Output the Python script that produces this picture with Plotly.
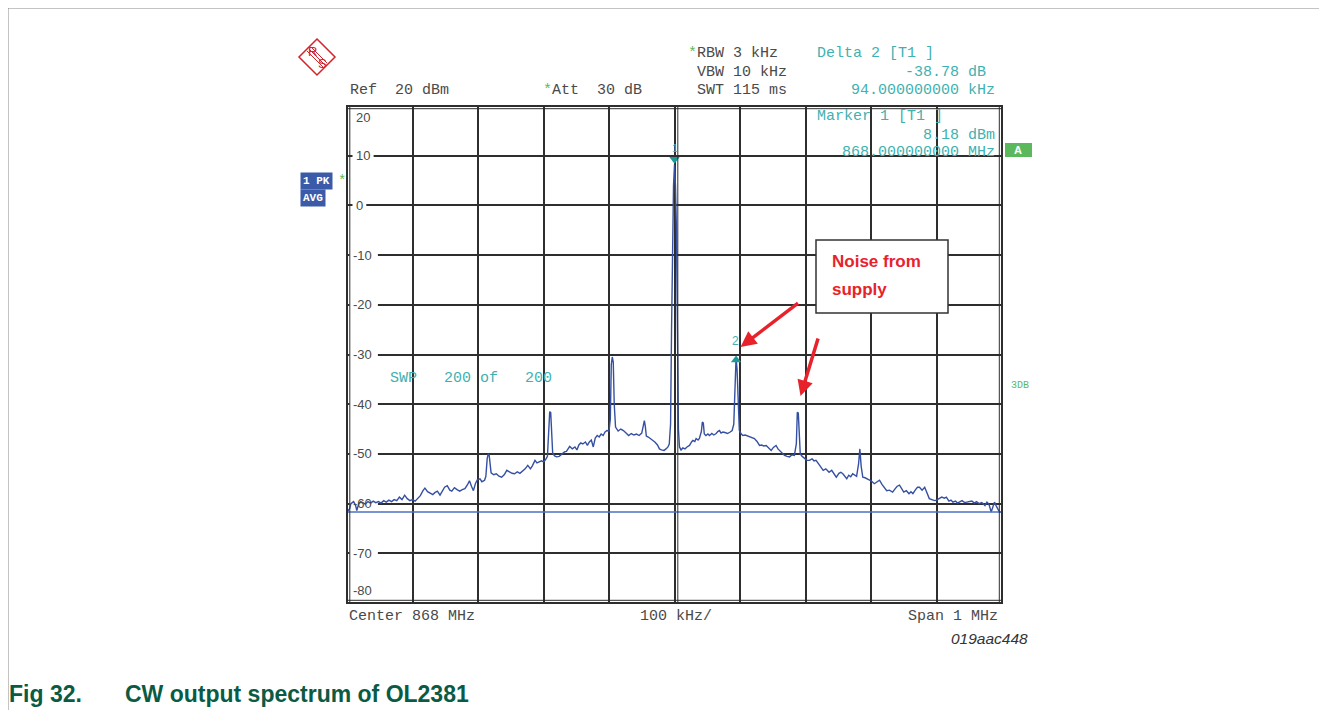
import plotly.graph_objects as go

# ---------------- data ----------------
freq_khz = [
    -500, -496, -494, -490, -487, -485, -482, -479, -476, -472, -468, -464, -460, -456, -452,
    -448, -444, -440, -436, -432, -428, -424, -420, -416, -412, -408, -404, -400, -396, -392,
    -388, -384, -381, -377, -373, -369, -366, -362, -358, -355, -351, -347, -343, -340, -336,
    -332, -328, -324, -320, -316, -313, -310, -307, -304, -301, -297, -294, -290, -288, -286,
    -284.5, -283, -281.5, -280, -276, -272, -268, -264, -260, -256, -252, -248, -244, -240, -236,
    -232, -228, -224, -220, -217, -213, -210, -206, -203, -200, -197, -194, -192, -190.5, -189,
    -187.5, -186, -183, -180, -176, -172, -168, -165, -162, -160, -156, -152, -149, -146, -143,
    -140, -136, -133, -130, -127, -124, -121, -118, -115, -112, -109, -106, -103, -100, -98,
    -96.5, -95, -93.5, -92, -90, -86, -82, -78, -74, -70, -66, -62, -58, -54, -50,
    -47, -46, -44.5, -43, -40, -36, -33, -30, -26, -23, -20, -16, -13, -10, -8,
    -6, -4.5, -3, -1.5, 0, 1.5, 3, 4.5, 6, 7.6, 10, 12.7, 16, 19, 22.9,
    26, 28, 31, 33, 36, 38, 41, 42.5, 44, 45.5, 48, 51, 53.4, 57, 60,
    63.6, 66, 68.7, 71, 73.8, 77, 81, 85, 88, 90.5, 92.5, 94, 95.5, 97, 99,
    102, 104.3, 108, 112, 114.5, 118, 122, 126, 129.8, 133, 136, 140, 144, 147.6, 151,
    155, 158, 160.3, 164, 168, 172, 175.6, 179, 183, 186, 187.5, 189, 190.5, 192, 195,
    198.5, 202, 206, 210, 213, 216, 220, 224, 227, 231, 236, 240, 244, 247, 251,
    254, 257, 260, 263, 266, 269, 272, 275, 278, 281, 283, 285, 287.5, 291, 294,
    297.7, 301, 305, 309, 313, 317, 321, 324, 328, 333, 337, 340, 343.5, 347, 350,
    354, 358, 361, 364, 368, 371, 374, 378, 382, 385, 389, 393, 397, 400, 404,
    408, 412, 415, 419, 422, 425, 429, 432, 435, 439, 443, 447, 450.4, 454, 458,
    461, 465, 469, 471, 474, 477, 480, 483.5, 486, 488.5, 491, 494, 496, 500,
]
level_dbm = [
    -61.7, -61.0, -60.0, -59.6, -60.3, -61.4, -60.0, -59.6, -59.8, -60.1, -59.6, -59.9, -59.5, -59.8, -59.6,
    -59.9, -59.4, -59.7, -59.3, -59.6, -59.2, -59.4, -58.7, -59.2, -58.3, -59.0, -59.4, -59.2, -59.5, -58.9,
    -58.4, -57.4, -56.9, -57.6, -57.9, -58.2, -57.8, -57.5, -58.3, -57.6, -56.7, -56.4, -57.3, -57.5, -56.8,
    -57.2, -57.5, -57.2, -57.0, -56.2, -55.4, -56.5, -57.4, -56.0, -55.2, -55.0, -55.6, -55.3, -54.5, -51.0,
    -50.0, -50.2, -52.5, -53.8, -54.2, -54.0, -54.5, -54.7, -54.2, -53.3, -53.6, -53.9, -54.0, -53.6, -53.9,
    -53.5, -53.0, -52.3, -53.0, -52.4, -51.3, -51.8, -51.5, -51.4, -51.6, -51.2, -50.5, -46.0, -41.5, -41.7,
    -45.0, -49.8, -50.4, -50.6, -50.5, -50.1, -49.6, -49.5, -48.9, -48.5, -49.0, -48.6, -49.2, -48.2, -47.8,
    -48.0, -47.6, -48.3, -47.6, -47.2, -48.6, -46.8, -46.3, -46.6, -46.0, -46.3, -45.6, -45.3, -45.4, -43.0,
    -32.0, -30.5, -31.5, -40.0, -44.6, -45.4, -45.0, -45.3, -45.8, -46.3, -45.9, -46.2, -46.0, -46.3, -45.8,
    -44.0, -43.3, -44.5, -46.4, -46.6, -47.0, -47.3, -47.6, -48.2, -49.0, -49.2, -49.3, -49.0, -48.6, -48.0,
    -44.0, -25.0, -5.0, 4.0, 8.18, 4.0, -5.0, -25.0, -45.0, -48.6, -49.2, -48.8, -49.0, -48.6, -48.3,
    -47.6, -47.3, -47.5, -46.9, -47.2, -46.9, -45.5, -43.6, -43.8, -46.0, -46.3, -46.0, -46.3, -45.9, -46.2,
    -45.9, -45.5, -45.3, -45.8, -45.6, -45.7, -45.9, -45.6, -45.3, -44.0, -36.0, -30.6, -33.0, -40.0, -45.3,
    -46.0, -46.3, -46.2, -46.4, -46.6, -46.7, -46.9, -47.5, -48.3, -48.2, -48.4, -48.3, -48.8, -49.3, -48.7,
    -48.3, -49.0, -49.3, -49.8, -50.3, -50.5, -50.6, -50.2, -50.3, -48.0, -41.6, -41.8, -46.0, -50.0, -50.5,
    -51.0, -51.3, -51.3, -51.0, -51.4, -51.3, -52.0, -52.8, -53.3, -53.0, -53.7, -53.3, -54.2, -54.7, -53.9,
    -53.7, -54.0, -54.6, -55.0, -54.3, -54.6, -54.0, -54.3, -54.5, -52.0, -49.0, -52.5, -54.7, -54.8, -55.0,
    -55.3, -55.5, -56.0, -55.6, -55.3, -56.2, -57.0, -57.4, -57.3, -57.7, -57.0, -56.5, -56.3, -57.2, -57.7,
    -57.4, -58.0, -57.6, -58.0, -57.2, -56.7, -56.7, -57.3, -56.7, -57.8, -59.0, -59.2, -59.4, -59.3, -59.0,
    -58.7, -58.9, -58.7, -59.5, -59.3, -59.7, -59.5, -59.9, -59.7, -59.4, -59.8, -59.7, -59.7, -59.5, -59.9,
    -59.6, -60.0, -59.8, -60.0, -60.4, -59.7, -60.1, -61.7, -60.5, -59.7, -60.4, -61.2, -61.7, -61.7,
]
display_line_dbm = -61.7
marker1_khz, marker1_dbm = 0, 8.18
marker2_khz, marker2_dbm = 94, -30.6
y_tick_values = [20, 10, 0, -10, -20, -30, -40, -50, -60, -70, -80]
x_range_khz = [-500, 500]
y_range_dbm = [-80, 20]

# ---------------- layout helpers ----------------
# the page body has an 8px margin, so the figure is drawn 8px smaller and
# every reference pixel position maps to the same paper fraction.
OFF = 8
W, H = 1327 - OFF, 710 - OFF
PL, PR, PT, PB = 347, 1002, 106, 603      # plot area in reference pixels


def px(x):
    return (x - PL) / (PR - PL)


def py(y):
    return (PB - y) / (PB - PT)


def kx(x):
    """reference pixel x -> x-axis data value"""
    return x_range_khz[0] + px(x) * (x_range_khz[1] - x_range_khz[0])


def nb(s):
    return s.replace(" ", "\u00a0")


MONO = "Liberation Mono, Courier New, monospace"
SANS = "Liberation Sans, Arial, sans-serif"
GRAY = "#4a4a4a"
TEAL = "#3fb1b1"
GREEN = "#5cb85c"
RED = "#e8222b"
TRACE = "#3550a2"
LOGO = "#d2232a"

fig = go.Figure()
fig.add_trace(go.Scatter(x=freq_khz, y=level_dbm, mode="lines",
                         line=dict(color=TRACE, width=1.4), hoverinfo="skip"))
fig.add_trace(go.Scatter(x=x_range_khz, y=[display_line_dbm, display_line_dbm], mode="lines",
                         line=dict(color="#4f6fc2", width=1.4), hoverinfo="skip"))
fig.add_trace(go.Scatter(x=[marker1_khz], y=[marker1_dbm + 1.1], mode="markers",
                         marker=dict(symbol="triangle-down", size=9, color="#1e9898"),
                         hoverinfo="skip"))
fig.add_trace(go.Scatter(x=[marker2_khz], y=[marker2_dbm - 0.5], mode="markers",
                         marker=dict(symbol="triangle-up", size=9, color="#1e9898"),
                         hoverinfo="skip"))

ann = []


def txt(x, y, s, size=15, color=GRAY, family=MONO, xanchor="left", yanchor="middle", **kw):
    ann.append(dict(x=px(x), y=py(y), xref="paper", yref="paper", text=s, showarrow=False,
                    xanchor=xanchor, yanchor=yanchor,
                    font=dict(family=family, size=size, color=color), **kw))


star = '<span style="color:%s">*</span>' % GREEN
# header texts
txt(348, 90, nb("Ref  20 dBm"))
txt(541, 90, star + nb("Att  30 dB"))
txt(686, 54, star + nb("RBW 3 kHz"))
txt(695, 72, nb("VBW 10 kHz"))
txt(695, 90, nb("SWT 115 ms"))
txt(815, 54, nb("Delta 2 [T1 ]"), color=TEAL)
txt(997, 72, nb("-38.78 dB "), color=TEAL, xanchor="right")
txt(997, 90, nb("94.000000000 kHz"), color=TEAL, xanchor="right")
txt(815, 116, nb("Marker 1 [T1 ]"), color=TEAL)
txt(997, 135, nb("8.18 dBm"), color=TEAL, xanchor="right")
txt(997, 153, nb("868.000000000 MHz"), color=TEAL, xanchor="right")
txt(388, 378, nb("SWP   200 of   200"), color=TEAL)
# bottom texts
txt(347, 616, nb("Center 868 MHz"))
txt(638, 616, nb("100 kHz/"))
txt(1000, 616, nb("Span 1 MHz"), xanchor="right")
txt(1030, 638, "<i>019aac448</i>", size=15.5, family=SANS, color="#333333", xanchor="right")
# side boxes
txt(300, 181, "<b>" + nb("1 PK") + "</b>", size=11, color="white", bgcolor="#3b5aa8", borderpad=2)
txt(300, 198, "<b>AVG</b>", size=11, color="white", bgcolor="#3b5aa8", borderpad=2)
txt(336, 181, "*", size=14, color=GREEN)
txt(1018, 150, "<b>A</b>", size=11, color="white", family=SANS, xanchor="center")
txt(1009, 385, "3DB", size=10, color=GREEN)
# caption
CAP = "#0b5b44"
txt(7, 694, "<b>Fig 32.</b>", size=23, family=SANS, color=CAP)
txt(123, 694, "<b>CW output spectrum of OL2381</b>", size=23, family=SANS, color=CAP)
# noise annotation text
txt(830, 262, "<b>Noise from</b>", size=17, family=SANS, color=RED)
txt(830, 289, "<b>supply</b>", size=17, family=SANS, color=RED)
# logo letters
txt(312, 51, "R", size=13, family=SANS, color=LOGO, xanchor="center")
txt(322, 64, "S", size=13, family=SANS, color=LOGO, xanchor="center")

shapes = []
# y tick labels inside the plot; small white masks break the gridlines behind them
for v in y_tick_values:
    lx = 351 if v < 0 else 354
    a = dict(x=px(lx), xref="paper", y=v, yref="y", text=str(v), showarrow=False,
             xanchor="left", font=dict(family=SANS, size=13, color=GRAY), borderpad=1)
    if v == y_range_dbm[1]:
        a.update(yanchor="top", yshift=-2)
    elif v == y_range_dbm[0]:
        a.update(yanchor="bottom", yshift=3)
    else:
        a.update(yanchor="middle")
        wid = 7.3 * len(str(v)) + 5
        shapes.append(dict(type="rect", xref="x", yref="y", x0=kx(lx - 1.5), x1=kx(lx + wid),
                           y0=v - 0.5, y1=v + 0.5, fillcolor="white", line=dict(width=0),
                           layer="between"))
    ann.append(a)

# marker labels
ann.append(dict(x=marker1_khz, y=marker1_dbm, xref="x", yref="y", text="1", showarrow=False,
                yshift=17, font=dict(family=SANS, size=11, color=TEAL)))
ann.append(dict(x=marker2_khz, y=marker2_dbm, xref="x", yref="y", text="2", showarrow=False,
                yshift=16, xshift=-1, font=dict(family=SANS, size=12, color=TEAL)))

# red arrows (head at data point, tail offset in pixels)
ann.append(dict(x=100.8, y=-28.5, xref="x", yref="y", ax=59, ay=-45, showarrow=True,
                arrowhead=2, arrowsize=0.9, arrowwidth=3.5, arrowcolor=RED, text=""))
ann.append(dict(x=192.4, y=-38.35, xref="x", yref="y", ax=18, ay=-59, showarrow=True,
                arrowhead=2, arrowsize=0.9, arrowwidth=3.5, arrowcolor=RED, text=""))

BORDER = "#2e2e2e"
# outer frame of plot
shapes.append(dict(type="rect", xref="paper", yref="paper", x0=0, x1=1, y0=0, y1=1,
                   line=dict(color=BORDER, width=2)))
# inner lines (double border)
for x in (349.8, 999.3):
    shapes.append(dict(type="line", xref="paper", yref="paper", x0=px(x), x1=px(x), y0=0, y1=1,
                       line=dict(color=BORDER, width=1)))
for y in (108.7, 600.3):
    shapes.append(dict(type="line", xref="paper", yref="paper", x0=0, x1=1, y0=py(y), y1=py(y),
                       line=dict(color=BORDER, width=1)))
# centre double line
shapes.append(dict(type="line", xref="paper", yref="paper", x0=px(677.8), x1=px(677.8), y0=0, y1=1,
                   line=dict(color=BORDER, width=1)))
# annotation box
shapes.append(dict(type="rect", xref="paper", yref="paper", x0=px(816), x1=px(948),
                   y0=py(313), y1=py(240), fillcolor="white", line=dict(color="#333333", width=1.5)))
# green A box
shapes.append(dict(type="rect", xref="paper", yref="paper", x0=px(1005), x1=px(1032),
                   y0=py(157), y1=py(143), fillcolor=GREEN, line=dict(width=0), layer="below"))
# page frame (thin gray)
shapes.append(dict(type="line", xref="paper", yref="paper", x0=px(8), x1=px(1320),
                   y0=py(8), y1=py(8), line=dict(color="#8a8a8a", width=1)))
shapes.append(dict(type="line", xref="paper", yref="paper", x0=px(8), x1=px(8),
                   y0=py(8), y1=py(710), line=dict(color="#8a8a8a", width=1)))
# R&S logo diamond
cx, cy, r = 317, 57, 18
path = "M %f %f L %f %f L %f %f L %f %f Z" % (
    px(cx), py(cy - r), px(cx + r), py(cy), px(cx), py(cy + r), px(cx - r), py(cy))
shapes.append(dict(type="path", xref="paper", yref="paper", path=path,
                   line=dict(color=LOGO, width=1.5)))
for d in (-2, 0, 2):
    shapes.append(dict(type="line", xref="paper", yref="paper",
                       x0=px(cx - 8 + d), y0=py(cy - 8 - d), x1=px(cx + 8 + d), y1=py(cy + 8 - d),
                       line=dict(color=LOGO, width=1)))

fig.update_layout(
    width=W, height=H,
    margin=dict(l=PL - OFF, r=W - (PR - OFF), t=PT - OFF, b=H - (PB - OFF), pad=0),
    paper_bgcolor="white", plot_bgcolor="white",
    showlegend=False,
    annotations=ann, shapes=shapes,
    xaxis=dict(range=x_range_khz, dtick=100, tick0=-500, showgrid=True, gridcolor="#2e2e2e",
               gridwidth=1.5, zeroline=False, showticklabels=False, ticks="", fixedrange=True),
    yaxis=dict(range=y_range_dbm, dtick=10, tick0=-80, showgrid=True, gridcolor="#2e2e2e",
               gridwidth=1.5, zeroline=False, showticklabels=False, ticks="", fixedrange=True),
)

fig.write_html("out.html", config={"displayModeBar": False})
